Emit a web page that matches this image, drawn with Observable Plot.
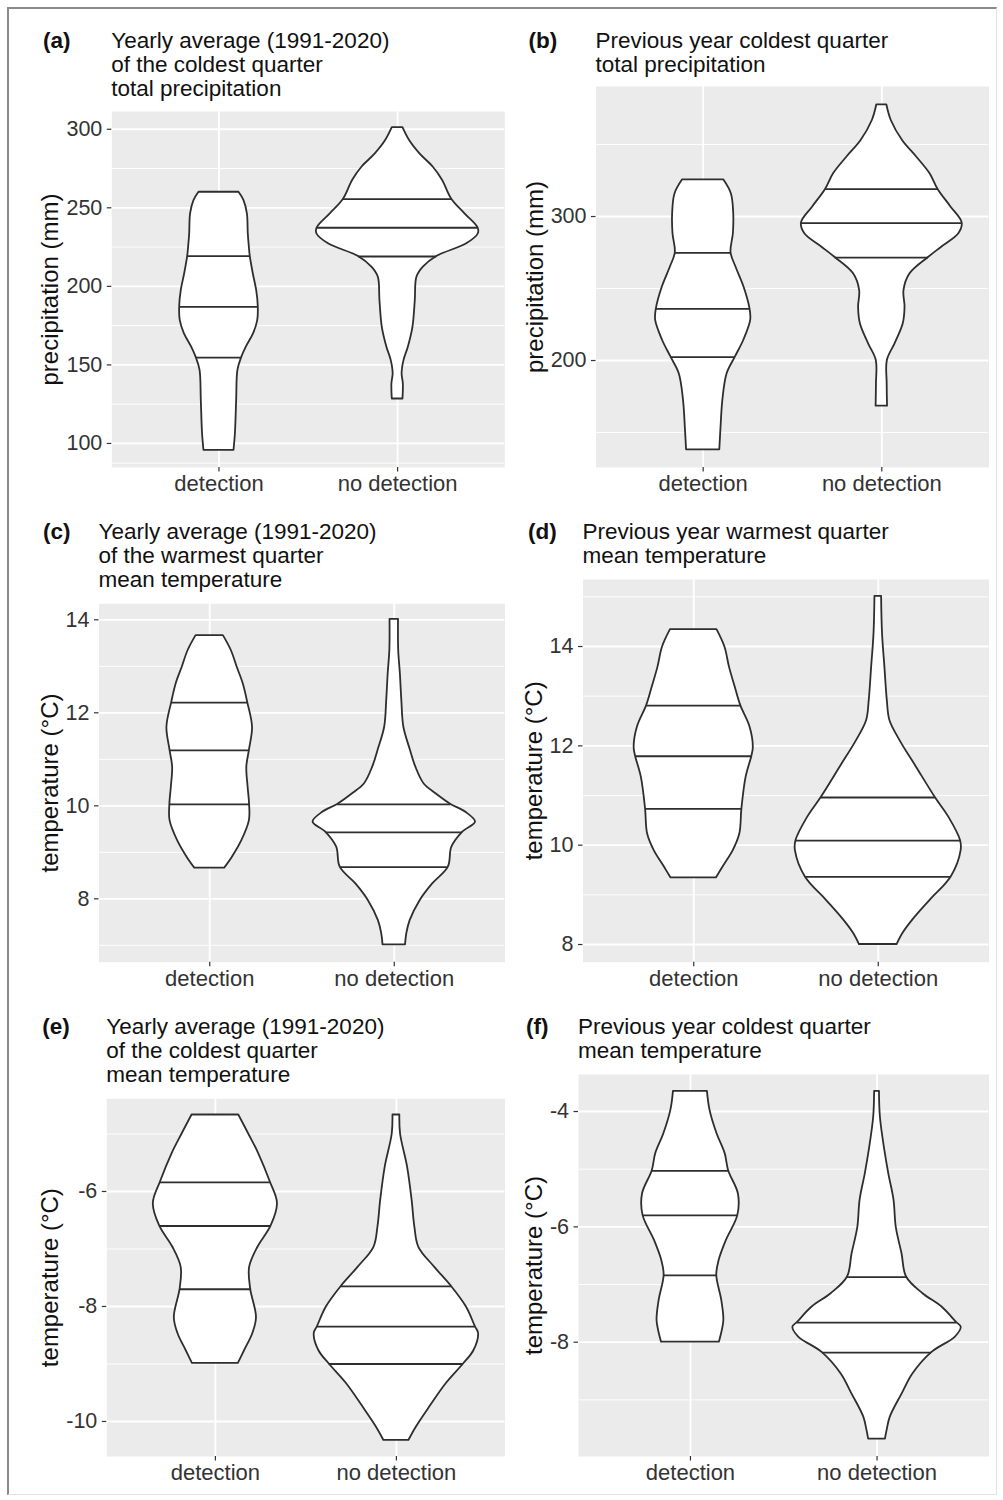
<!DOCTYPE html>
<html><head><meta charset="utf-8">
<script src="https://cdn.jsdelivr.net/npm/d3@7"></script>
<script src="https://cdn.jsdelivr.net/npm/@observablehq/plot@0.6"></script>
<style>
html,body{margin:0;padding:0;background:#fff;}
#fig{position:relative;width:1003px;height:1500px;overflow:hidden;font-family:"Liberation Sans",Arial,sans-serif;}
.ttl{position:absolute;font-size:22.5px;line-height:24px;color:#111;white-space:pre;}
.tag{position:absolute;font-size:22.5px;line-height:24px;font-weight:bold;color:#111;white-space:pre;}
#border{position:absolute;left:7px;top:7px;width:990px;height:1488px;border-left:2px solid #8a8a8a;border-top:2px solid #8a8a8a;border-right:1px solid #e2e2e2;border-bottom:1px solid #e2e2e2;box-sizing:border-box;}
</style>
</head><body><div id="fig"><div id="border"></div></div>
<script>
const categories = ["detection", "no detection"];

// Violin profiles: [value, half-width in category units]
const aDetection = [[259.9,0.112],[254.6,0.140],[246.2,0.159],[233.5,0.164],[225.0,0.170],[219.2,0.175],[208.0,0.192],[197.4,0.211],[187.0,0.220],[178.3,0.217],[169.9,0.194],[161.3,0.153],[154.6,0.127],[146.5,0.106],[127.4,0.099],[106.2,0.092],[95.6,0.084]];
const aNoDetection = [[301.0,0.030],[292.8,0.067],[284.3,0.125],[275.8,0.200],[267.4,0.252],[255.5,0.303],[246.2,0.377],[237.3,0.450],[233.5,0.452],[227.1,0.387],[219.0,0.219],[212.2,0.144],[205.8,0.108],[191.0,0.099],[174.1,0.086],[161.3,0.060],[152.9,0.036],[144.4,0.025],[138.0,0.032],[128.3,0.030]];
const aQuartDetection = [[219.2,0.175],[187.0,0.220],[154.6,0.127]];
const aQuartNoDetection = [[255.5,0.303],[237.3,0.450],[219.0,0.219]];

const bDetection = [[325.5,0.115],[315.7,0.158],[301.9,0.171],[288.0,0.169],[274.8,0.156],[264.8,0.184],[250.9,0.229],[235.9,0.262],[227.8,0.266],[213.9,0.227],[202.3,0.180],[190.8,0.134],[172.2,0.110],[153.7,0.100],[138.0,0.093]];
const bNoDetection = [[377.6,0.028],[366.7,0.053],[352.8,0.116],[341.2,0.196],[329.7,0.270],[319.0,0.314],[306.5,0.388],[295.4,0.450],[288.0,0.431],[278.7,0.335],[271.5,0.261],[260.2,0.158],[248.6,0.124],[237.0,0.130],[225.5,0.120],[211.6,0.074],[200.0,0.031],[183.8,0.030],[168.3,0.032]];
const bQuartDetection = [[274.8,0.156],[235.9,0.262],[202.3,0.180]];
const bQuartNoDetection = [[319.0,0.314],[295.4,0.450],[271.5,0.261]];

const cDetection = [[13.66,0.074],[13.34,0.117],[12.98,0.149],[12.62,0.182],[12.22,0.206],[11.69,0.232],[11.19,0.215],[10.83,0.201],[10.40,0.208],[10.03,0.216],[9.68,0.215],[9.25,0.174],[8.89,0.122],[8.66,0.081]];
const cNoDetection = [[14.01,0.023],[13.34,0.024],[12.84,0.033],[12.26,0.041],[11.69,0.052],[11.19,0.088],[10.83,0.117],[10.47,0.162],[10.26,0.226],[10.03,0.307],[9.86,0.388],[9.65,0.440],[9.43,0.370],[9.11,0.312],[8.68,0.293],[8.32,0.208],[7.96,0.140],[7.53,0.086],[7.25,0.068],[7.01,0.061]];
const cQuartDetection = [[12.22,0.206],[11.19,0.215],[10.03,0.216]];
const cQuartNoDetection = [[10.03,0.307],[9.43,0.370],[8.68,0.293]];

const dDetection = [[14.34,0.126],[13.99,0.169],[13.58,0.194],[13.18,0.225],[12.81,0.255],[12.38,0.305],[11.97,0.323],[11.79,0.315],[11.37,0.284],[10.73,0.261],[10.23,0.250],[9.89,0.214],[9.56,0.159],[9.34,0.123]];
const dNoDetection = [[15.01,0.018],[14.26,0.023],[13.58,0.036],[12.91,0.049],[12.51,0.063],[12.11,0.117],[11.57,0.207],[10.96,0.309],[10.56,0.383],[10.09,0.446],[9.89,0.449],[9.36,0.395],[8.89,0.281],[8.50,0.189],[8.23,0.135],[8.00,0.102]];
const dQuartDetection = [[12.81,0.255],[11.79,0.315],[10.73,0.261]];
const dQuartNoDetection = [[10.96,0.309],[10.09,0.446],[9.36,0.395]];

const eDetection = [[-4.67,0.129],[-5.00,0.184],[-5.34,0.239],[-5.84,0.304],[-6.21,0.343],[-6.60,0.308],[-6.97,0.235],[-7.32,0.189],[-7.70,0.195],[-8.19,0.227],[-8.47,0.207],[-8.77,0.161],[-8.99,0.127]];
const eNoDetection = [[-4.67,0.019],[-5.00,0.023],[-5.58,0.062],[-6.16,0.087],[-6.62,0.102],[-6.97,0.124],[-7.32,0.212],[-7.65,0.304],[-8.01,0.387],[-8.35,0.436],[-8.47,0.454],[-8.77,0.428],[-9.00,0.371],[-9.34,0.276],[-9.75,0.184],[-10.10,0.110],[-10.33,0.069]];
const eQuartDetection = [[-5.84,0.304],[-6.60,0.308],[-7.70,0.195]];
const eQuartNoDetection = [[-7.65,0.304],[-8.35,0.436],[-9.00,0.371]];

const fDetection = [[-3.65,0.091],[-3.98,0.105],[-4.39,0.143],[-4.73,0.186],[-5.03,0.205],[-5.43,0.257],[-5.80,0.254],[-6.24,0.192],[-6.58,0.154],[-6.84,0.141],[-7.28,0.168],[-7.62,0.179],[-7.85,0.167],[-8.00,0.155]];
const fNoDetection = [[-3.65,0.013],[-4.10,0.018],[-4.68,0.042],[-5.08,0.063],[-5.54,0.091],[-6.01,0.103],[-6.47,0.134],[-6.87,0.158],[-7.16,0.246],[-7.39,0.348],[-7.66,0.427],[-7.74,0.451],[-7.91,0.420],[-8.18,0.293],[-8.55,0.192],[-8.90,0.134],[-9.30,0.071],[-9.53,0.054],[-9.68,0.045]];
const fQuartDetection = [[-5.03,0.205],[-5.80,0.254],[-6.84,0.141]];
const fQuartNoDetection = [[-6.87,0.158],[-7.66,0.427],[-8.18,0.293]];

// Axis ticks and domains
const aTicks = [100,150,200,250,300], aMinor = [87.5,125,175,225,275], aDomain = [84.7,311.3];
const bTicks = [200,300], bMinor = [150,250,350], bDomain = [125.7,390.3];
const cTicks = [8,10,12,14], cMinor = [7,9,11,13], cDomain = [6.637,14.344];
const dTicks = [8,10,12,14], dMinor = [9,11,13,15], dDomain = [7.644,15.349];
const eTicks = [-10,-8,-6], eMinor = [-9,-7,-5], eDomain = [-10.609,-4.388];
const fTicks = [-8,-6,-4], fMinor = [-9,-7,-5], fDomain = [-9.982,-3.358];

const tags = ["(a)","(b)","(c)","(d)","(e)","(f)"];
const titles = [
  "Yearly average (1991-2020)\nof the coldest quarter\ntotal precipitation",
  "Previous year coldest quarter\ntotal precipitation",
  "Yearly average (1991-2020)\nof the warmest quarter\nmean temperature",
  "Previous year warmest quarter\nmean temperature",
  "Yearly average (1991-2020)\nof the coldest quarter\nmean temperature",
  "Previous year coldest quarter\nmean temperature"
];
const yLabels = ["precipitation (mm)","precipitation (mm)","temperature (°C)","temperature (°C)","temperature (°C)","temperature (°C)"];

const panels = [
  {det:aDetection, nodet:aNoDetection, qd:aQuartDetection, qn:aQuartNoDetection, ticks:aTicks, minor:aMinor, domain:aDomain,
   svg:{left:0,top:0,width:515,height:500}, box:{l:111.3,r:504.3,t:111,b:467}, tagX:43, titleBase:48.7, yTitleX:50},
  {det:bDetection, nodet:bNoDetection, qd:bQuartDetection, qn:bQuartNoDetection, ticks:bTicks, minor:bMinor, domain:bDomain,
   svg:{left:500,top:0,width:503,height:500}, box:{l:595.5,r:988.5,t:86,b:467}, tagX:528.5, titleBase:48.7, yTitleX:535},
  {det:cDetection, nodet:cNoDetection, qd:cQuartDetection, qn:cQuartNoDetection, ticks:cTicks, minor:cMinor, domain:cDomain,
   svg:{left:0,top:500,width:515,height:500}, box:{l:98.5,r:504.5,t:603.3,b:961.7}, tagX:43, titleBase:540.3, yTitleX:50},
  {det:dDetection, nodet:dNoDetection, qd:dQuartDetection, qn:dQuartNoDetection, ticks:dTicks, minor:dMinor, domain:dDomain,
   svg:{left:500,top:500,width:503,height:500}, box:{l:582.5,r:988.5,t:579,b:961.7}, tagX:528, titleBase:540.3, yTitleX:533.5},
  {det:eDetection, nodet:eNoDetection, qd:eQuartDetection, qn:eQuartNoDetection, ticks:eTicks, minor:eMinor, domain:eDomain,
   svg:{left:0,top:1000,width:515,height:500}, box:{l:106.3,r:504.5,t:1098.3,b:1456}, tagX:42.3, titleBase:1035, yTitleX:50},
  {det:fDetection, nodet:fNoDetection, qd:fQuartDetection, qn:fQuartNoDetection, ticks:fTicks, minor:fMinor, domain:fDomain,
   svg:{left:500,top:1000,width:503,height:500}, box:{l:578,r:988.5,t:1074,b:1456}, tagX:526, titleBase:1035, yTitleX:533.5}
];

const fig = document.getElementById("fig");
const ink = "#2e2e2e";
const tickInk = "#333333";

function violin(prof, pos) {
  return Plot.areaX(prof, {y: d => d[0], x1: d => pos - d[1], x2: d => pos + d[1],
    fill: "white", stroke: ink, strokeWidth: 1.8, curve: "catmull-rom"});
}
function quart(q, pos) {
  return Plot.ruleY(q, {y: d => d[0], x1: d => pos - d[1], x2: d => pos + d[1], stroke: ink, strokeWidth: 1.8});
}

panels.forEach((p, i) => {
  const W = p.svg.width, H = p.svg.height;
  const mL = p.box.l - p.svg.left, mR = p.svg.left + W - p.box.r;
  const mT = p.box.t - p.svg.top, mB = p.svg.top + H - p.box.b;
  const chart = Plot.plot({
    width: W, height: H,
    marginLeft: mL, marginRight: mR, marginTop: mT, marginBottom: mB,
    style: {fontFamily: '"Liberation Sans", Arial, sans-serif', fontSize: "21px", background: "transparent", overflow: "visible"},
    x: {type: "linear", domain: [0.4, 2.6]},
    y: {type: "linear", domain: p.domain},
    marks: [
      Plot.frame({fill: "#EBEBEB", stroke: "none"}),
      Plot.gridY(p.minor, {stroke: "white", strokeOpacity: 1, strokeWidth: 0.9}),
      Plot.gridY(p.ticks, {stroke: "white", strokeOpacity: 1, strokeWidth: 1.8}),
      Plot.gridX([1, 2], {stroke: "white", strokeOpacity: 1, strokeWidth: 1.8}),
      violin(p.det, 1), violin(p.nodet, 2),
      quart(p.qd, 1), quart(p.qn, 2),
      Plot.axisY(p.ticks, {tickSize: 4.5, tickPadding: 5, fontSize: 21.5, fill: "#333", stroke: tickInk, strokeWidth: 1.2, label: null,
        tickFormat: d => String(d)}),
      Plot.axisX([1, 2], {tickSize: 4.5, tickPadding: 3.5, fontSize: 22, fill: "#333", stroke: tickInk, strokeWidth: 1.2, label: null,
        tickFormat: d => categories[d - 1]}),
      Plot.text([yLabels[i]], {text: d => d, frameAnchor: "left", textAnchor: "middle", dx: p.yTitleX - p.box.l, rotate: -90, fontSize: 24, fill: "#111"})
    ]
  });
  chart.style.position = "absolute";
  chart.style.left = p.svg.left + "px";
  chart.style.top = p.svg.top + "px";
  fig.appendChild(chart);

  const tag = document.createElement("div");
  tag.className = "tag";
  tag.textContent = tags[i];
  tag.style.left = p.tagX + "px";
  tag.style.top = (p.titleBase - 19.9) + "px";
  fig.appendChild(tag);

  const t = document.createElement("div");
  t.className = "ttl";
  t.textContent = titles[i];
  t.style.left = p.box.l + "px";
  t.style.top = (p.titleBase - 19.9) + "px";
  fig.appendChild(t);
});
</script>
</body></html>
